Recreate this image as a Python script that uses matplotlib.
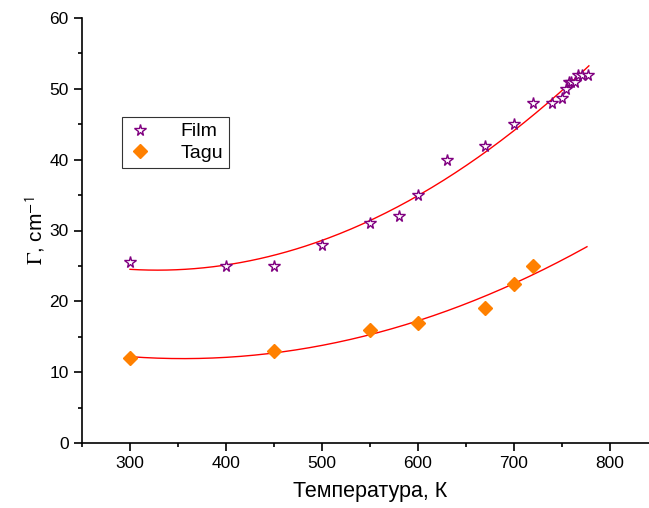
import numpy as np
import matplotlib
matplotlib.use("Agg")
import matplotlib.pyplot as plt
from matplotlib.ticker import MultipleLocator

plt.rcParams["font.family"] = ["Liberation Sans", "DejaVu Sans"]
plt.rcParams["mathtext.fontset"] = "stix"

# -- Data ---------------------------------------------------------------------
film_t = [300, 400, 450, 500, 550, 580, 600, 630, 670, 700, 720, 740, 750,
          754, 757, 759, 764, 767, 771, 777]
film_g = [25.5, 25, 25, 28, 31, 32, 35, 40, 42, 45, 48, 48, 48.7,
          50, 51, 51, 51, 52, 52, 52]

tagu_t = [300, 450, 550, 600, 670, 700, 720]
tagu_g = [12, 13, 16, 17, 19, 22.5, 25]

# -- Quadratic fits -----------------------------------------------------------
film_fit = np.poly1d(np.polyfit(film_t, film_g, 2))
tagu_fit = np.poly1d(np.polyfit(tagu_t, tagu_g, 2))
t_film = np.linspace(300, 778, 200)
t_tagu = np.linspace(300, 776, 200)

fig = plt.figure(figsize=(6.49, 5.08), dpi=100)
ax = fig.add_axes([82 / 649, 65 / 508, 576 / 649, 425 / 508])

ax.plot(t_film, film_fit(t_film), color="red", lw=1, zorder=1)
ax.plot(t_tagu, tagu_fit(t_tagu), color="red", lw=1, zorder=1)
ax.plot(film_t, film_g, ls="none", marker="*", ms=8.5, mfc="white",
        mec="#800080", mew=1, label="Film", zorder=3)
ax.plot(tagu_t, tagu_g, ls="none", marker="D", ms=7, mfc="#FF8000",
        mec="#FF8000", label="Tagu", zorder=3)

ax.set_xlim(250, 850)
ax.set_ylim(0, 60)
ax.xaxis.set_major_locator(MultipleLocator(100))
ax.xaxis.set_minor_locator(MultipleLocator(50))
ax.yaxis.set_major_locator(MultipleLocator(10))
ax.yaxis.set_minor_locator(MultipleLocator(5))
ax.spines["top"].set_visible(False)
ax.spines["right"].set_visible(False)
ax.spines["left"].set_linewidth(1.2)
ax.spines["bottom"].set_linewidth(1.2)
ax.tick_params(which="major", direction="out", length=6, width=1.2, labelsize=12.5)
ax.tick_params(which="minor", direction="out", length=3, width=1.2)

ax.set_xlabel("Температура, К", fontsize=15.5, labelpad=7)
ax.set_ylabel(r"$\Gamma$, cm$^{\mathsf{-1}}$", fontsize=15, labelpad=2)

leg = ax.legend(loc="upper left", bbox_to_anchor=(40 / 576, 326 / 425),
                fontsize=14, frameon=True, fancybox=False, edgecolor="black",
                handletextpad=1.4, borderpad=0.3, labelspacing=0.2,
                handlelength=1.3, borderaxespad=0)
leg.get_frame().set_linewidth(0.8)

fig.savefig("out.png", dpi=100)
